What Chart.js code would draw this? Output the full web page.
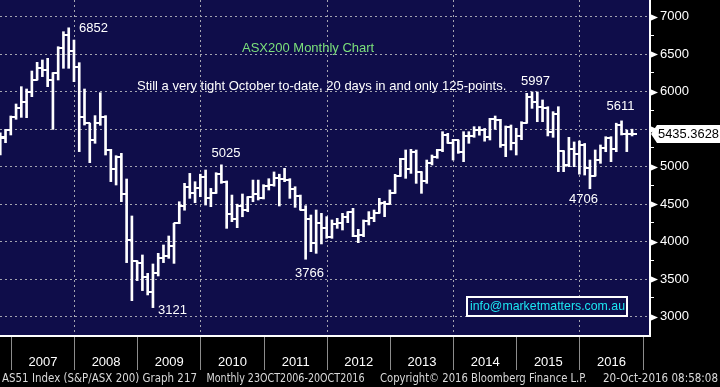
<!DOCTYPE html>
<html>
<head>
<meta charset="utf-8">
<script src="https://cdn.jsdelivr.net/npm/chart.js@4.4.1/dist/chart.umd.min.js"></script>
<style>
  html, body { margin: 0; padding: 0; background: #000; }
  #wrap { width: 720px; height: 387px; position: relative; }
</style>
</head>
<body>
<div id="wrap"><canvas id="c" width="720" height="387"></canvas></div>
<script>
// ---- Data: ASX200 (AS51) monthly OHLC, Oct 2006 .. Oct 2016 ----
const years = ['2007','2008','2009','2010','2011','2012','2013','2014','2015','2016'];
const priceTicks = [3000, 3500, 4000, 4500, 5000, 5500, 6000, 6500, 7000];

const open = [
  5300,5378,5489,
  5667,5778,5867,6001,6156,6312,6289,6156,6254,6578,6756,6543,
  6334,5658,5578,5356,5587,5667,5223,4970,5134,4636,4023,3743,
  3712,3534,3334,3578,3778,3813,3943,4245,4470,4733,4645,4711,
  4867,4578,4653,4900,4800,4370,4300,4476,4420,4590,4630,4584,
  4746,4754,4846,4838,4823,4709,4608,4425,4297,3985,4243,4184,
  4057,4238,4244,4335,4396,4077,4095,4280,4316,4387,4517,4506,
  4649,4879,5104,4966,5191,4926,4803,5052,5135,5218,5426,5321,
  5352,5190,5405,5403,5489,5492,5396,5632,5625,5292,5527,5313,
  5411,5588,5929,5861,5790,5777,5459,5699,5207,5022,5239,5166,
  5296,4977,4881,5083,5252,5378,5233,5562,5433,5436
];
const high = [
  5450,5498,5676,
  5836,6067,6036,6276,6392,6423,6445,6254,6600,6800,6852,6689,
  6387,6036,5578,5681,5987,5681,5232,5147,5178,4836,4343,3745,
  3823,3578,3703,3845,3956,4076,4245,4533,4778,4911,4800,4900,
  4956,4711,4920,5025,4810,4622,4500,4636,4600,4822,4822,4760,
  4840,4930,4900,4978,4840,4733,4622,4480,4356,4423,4378,4334,
  4290,4312,4378,4400,4445,4165,4290,4401,4423,4578,4540,4690,
  4898,5112,5223,5232,5223,4934,5089,5156,5232,5467,5445,5365,
  5356,5467,5467,5534,5534,5510,5645,5676,5632,5543,5556,5512,
  5600,5978,5997,5997,5890,5800,5734,5800,5214,5392,5330,5343,
  5310,5089,5223,5290,5400,5400,5580,5611,5489,5500
];
const low = [
  5156,5320,5423,
  5632,5658,5654,5934,6156,6201,6067,5498,6156,6312,6312,6134,
  5201,5556,5054,5312,5552,5156,4801,4756,4534,3721,3214,3481,
  3348,3290,3121,3543,3721,3778,3711,4240,4420,4578,4520,4600,
  4489,4467,4645,4778,4178,4267,4187,4333,4400,4533,4556,4570,
  4689,4740,4476,4800,4578,4458,4422,3766,3867,3845,3970,4045,
  4045,4178,4156,4254,4067,3987,4067,4223,4267,4380,4334,4500,
  4645,4870,4845,4911,4778,4645,4778,5023,5112,5200,5312,5089,
  5178,5067,5312,5392,5420,5340,5356,5498,5258,5134,5223,5156,
  5360,5580,5778,5600,5600,5410,5392,4934,4934,5000,5000,4900,
  4889,4706,4875,5045,5200,5067,5200,5423,5201,5410
];
const close = [
  5392,5489,5667,
  5778,5867,6001,6156,6312,6289,6156,6254,6578,6756,6543,6334,
  5658,5578,5356,5587,5667,5223,4970,5134,4636,4023,3743,3712,
  3534,3334,3578,3778,3813,3943,4245,4470,4733,4645,4711,4867,
  4578,4653,4900,4800,4370,4300,4476,4420,4590,4630,4584,4746,
  4754,4846,4838,4823,4709,4608,4425,4297,3985,4243,4184,4057,
  4238,4244,4335,4396,4077,4095,4280,4316,4387,4517,4506,4649,
  4879,5104,4966,5191,4926,4803,5052,5135,5218,5426,5321,5352,
  5190,5405,5403,5489,5492,5396,5632,5625,5292,5527,5313,5411,
  5588,5929,5861,5790,5777,5459,5699,5207,5022,5239,5166,5296,
  4977,4881,5083,5252,5378,5233,5562,5433,5436,5435.3628
];
const lastPrice = close[close.length - 1];

// ---- Styling ----
const NAVY = '#0f0d4a';
const GRID = '#a4a4b0';
const FONT = "'Liberation Sans', Arial, sans-serif";
Chart.defaults.font.family = FONT;

function tickImage(side) {
  const cv = document.createElement('canvas');
  cv.width = 9; cv.height = 2;
  const g = cv.getContext('2d');
  g.fillStyle = '#ffffff';
  if (side === 'left') g.fillRect(0, 0, 5, 2); else g.fillRect(4, 0, 5, 2);
  return cv;
}
const openTick = tickImage('left');
const closeTick = tickImage('right');

const annotations = [
  { text: '6852', x: 79, y: 28, color: '#ffffff' },
  { text: 'ASX200 Monthly Chart', x: 242, y: 48.5, color: '#7be07b' },
  { text: 'Still a very tight October to-date, 20 days in and only 125-points.', x: 137, y: 86.5, color: '#ffffff' },
  { text: '5025', x: 211.5, y: 153, color: '#ffffff' },
  { text: '3766', x: 295, y: 273, color: '#ffffff' },
  { text: '3121', x: 158, y: 310, color: '#ffffff' },
  { text: '5997', x: 521, y: 81, color: '#ffffff' },
  { text: '5611', x: 606.5, y: 106.5, color: '#ffffff' },
  { text: '4706', x: 569, y: 199, color: '#ffffff' }
];
const footer = [
  { text: 'AS51 Index (S&P/ASX 200) Graph 217', x: 2, w: 195 },
  { text: 'Monthly 23OCT2006-20OCT2016', x: 206.5, w: 158 },
  { text: 'Copyright\u00A9 2016 Bloomberg Finance L.P.', x: 380, w: 207 },
  { text: '20-Oct-2016 08:58:08', x: 603, w: 115 }
];

function noPad(s) { s.paddingTop = 0; s.paddingBottom = 0; s.paddingLeft = 0; s.paddingRight = 0; }

const decor = {
  id: 'decor',
  beforeDraw(chart) {
    const { ctx, chartArea: a } = chart;
    ctx.save();
    ctx.fillStyle = '#000';
    ctx.fillRect(0, 0, chart.width, chart.height);
    ctx.fillStyle = NAVY;
    ctx.fillRect(a.left, a.top, a.right - a.left, a.bottom - a.top);
    ctx.restore();
  },
  afterDraw(chart) {
    const { ctx, chartArea: a } = chart;
    const ys = chart.scales.y;
    ctx.save();
    // arrows on major y ticks
    ctx.fillStyle = '#ffffff';
    priceTicks.forEach(v => {
      const y = Math.round(ys.getPixelForValue(v)) + 0.5;
      ctx.beginPath();
      ctx.moveTo(a.right, y - 3.5);
      ctx.lineTo(a.right + 8, y);
      ctx.lineTo(a.right, y + 3.5);
      ctx.closePath();
      ctx.fill();
    });
    // last price box
    const ly = ys.getPixelForValue(lastPrice);
    ctx.beginPath();
    ctx.moveTo(a.right + 1, ly);
    ctx.lineTo(a.right + 7, ly - 9);
    ctx.lineTo(720, ly - 9);
    ctx.lineTo(720, ly + 9);
    ctx.lineTo(a.right + 7, ly + 9);
    ctx.closePath();
    ctx.fill();
    ctx.fillStyle = '#000000';
    ctx.font = '13px ' + FONT;
    ctx.textBaseline = 'middle';
    ctx.textAlign = 'left';
    ctx.fillText(lastPrice.toFixed(4), 658, ly + 0.5, 61);

    // info box
    ctx.fillStyle = NAVY;
    ctx.fillRect(467, 297, 160, 19);
    ctx.strokeStyle = '#ffffff';
    ctx.lineWidth = 2;
    ctx.strokeRect(467, 297, 160, 19);
    ctx.fillStyle = '#1ce6f2';
    ctx.fillText('info@marketmatters.com.au', 470, 306.5, 155);

    // annotations
    annotations.forEach(t => {
      ctx.fillStyle = t.color;
      ctx.fillText(t.text, t.x, t.y);
    });

    // footer
    ctx.fillStyle = '#dadada';
    ctx.font = "11.5px 'DejaVu Sans', sans-serif";
    footer.forEach(f => ctx.fillText(f.text, f.x, 379, f.w));
    ctx.restore();
  }
};

new Chart(document.getElementById('c'), {
  type: 'bar',
  data: {
    datasets: [
      {
        type: 'bar',
        label: 'High-Low',
        data: high.map((h, i) => ({ x: i, y: [low[i], h] })),
        backgroundColor: '#ffffff',
        borderWidth: 0,
        barThickness: 2,
        order: 2
      },
      {
        type: 'line',
        label: 'Open',
        data: open.map((o, i) => ({ x: i, y: o })),
        showLine: false,
        pointStyle: openTick,
        pointRadius: 3,
        pointHoverRadius: 3,
        order: 1
      },
      {
        type: 'line',
        label: 'Close',
        data: close.map((c, i) => ({ x: i, y: c })),
        showLine: false,
        pointStyle: closeTick,
        pointRadius: 3,
        pointHoverRadius: 3,
        order: 1
      }
    ]
  },
  options: {
    responsive: false,
    animation: false,
    events: [],
    devicePixelRatio: 1,
    layout: { padding: 0, autoPadding: false },
    plugins: { legend: { display: false }, tooltip: { enabled: false }, title: { display: false } },
    scales: {
      x: {
        type: 'linear',
        offset: false,
        min: -0.05,
        max: 123.407,
        afterBuildTicks: s => { s.ticks = years.map((y, k) => ({ value: 8.1 + 12 * k })); },
        afterFit: s => { s.height = 51; noPad(s); },
        ticks: {
          autoSkip: false, maxRotation: 0, minRotation: 0,
          color: '#ffffff', font: { size: 13 }, padding: -15,
          callback: (v, i) => years[i]
        },
        grid: {
          offset: true,
          color: c => (c.index % 2 === 1 ? GRID : 'rgba(0,0,0,0)'),
          lineWidth: 1,
          tickColor: '#8c8c8c',
          tickWidth: 1,
          tickLength: 34,
          tickBorderDash: []
        },
        border: { display: true, color: '#ffffff', width: 2, dash: [2, 3] }
      },
      y: {
        type: 'linear',
        position: 'right',
        min: 2742.7,
        max: 7222.7,
        afterBuildTicks: s => {
          const t = [];
          priceTicks.forEach((v, k) => {
            t.push({ value: v });
            if (k < priceTicks.length - 1) t.push({ value: (v + priceTicks[k + 1]) / 2 });
          });
          s.ticks = t;
        },
        afterFit: s => { s.width = 70; noPad(s); },
        ticks: {
          color: '#ffffff', font: { size: 13 }, padding: 6,
          callback: v => (priceTicks.includes(v) && Math.abs(v - lastPrice) > 150 ? String(v) : '')
        },
        grid: {
          color: c => (c.tick && priceTicks.includes(c.tick.value) ? GRID : 'rgba(0,0,0,0)'),
          lineWidth: 1,
          tickColor: '#ffffff',
          tickWidth: 1,
          tickLength: 4,
          tickBorderDash: []
        },
        border: { display: true, color: '#ffffff', width: 2, dash: [2, 3] }
      }
    }
  },
  plugins: [decor]
});
</script>
</body>
</html>
